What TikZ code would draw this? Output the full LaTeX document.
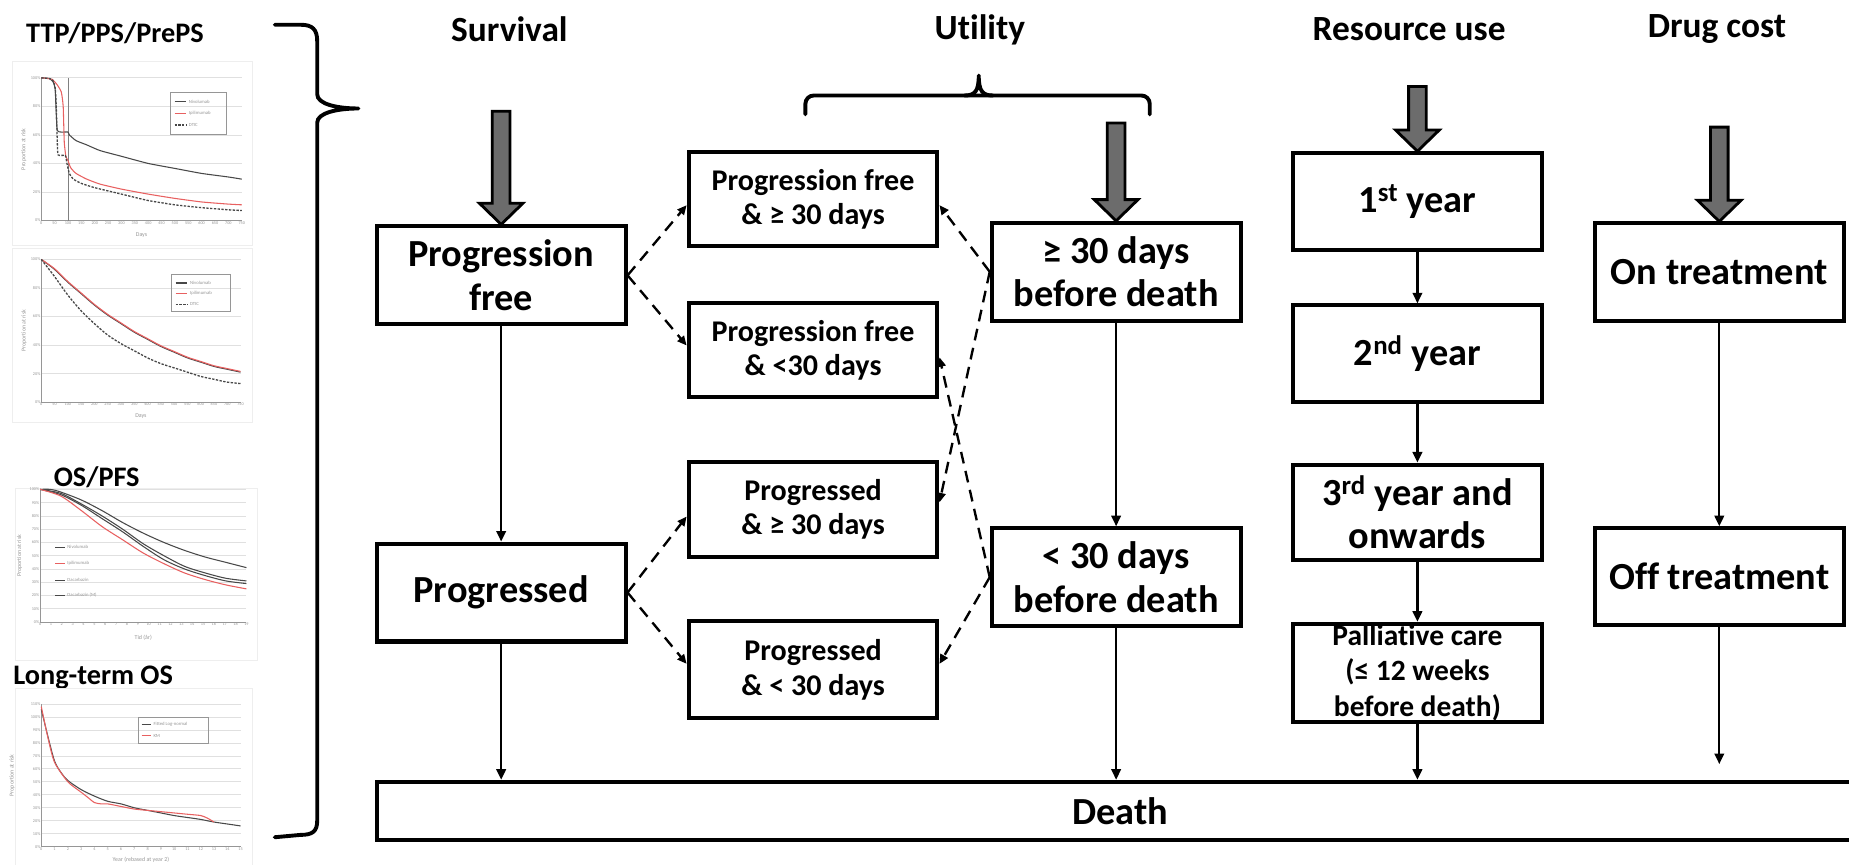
\documentclass[tikz,border=0pt]{standalone}
\usepackage{fontspec}
\setmainfont{Carlito}[Ligatures=NoCommon]
\usetikzlibrary{arrows.meta,calc}
\definecolor{arrowgray}{RGB}{108,108,108}
\definecolor{gridgray}{RGB}{224,224,224}
\definecolor{curvered}{RGB}{232,96,96}
\definecolor{curvedark}{RGB}{72,72,72}
\definecolor{labelgray}{RGB}{150,150,150}
\definecolor{framegray}{RGB}{238,238,238}

\tikzset{
  pics/blockarrow/.style={code={
    \draw[line width=2.4pt, fill=arrowgray, line join=miter]
      (0,0) -- (18.5,-18) -- (7.5,-18) -- (7.5,-#1) -- (-7.5,-#1)
      -- (-7.5,-18) -- (-18.5,-18) -- cycle;}},
}

\begin{document}
\begin{tikzpicture}[x=1pt,y=-1pt,
  box/.style={draw, line width=3.4pt, align=center, inner sep=0pt,
    font=\bfseries\fontsize{32.5}{37}\selectfont,
    minimum width=211pt, minimum height=83pt},
  midbox/.style={box, minimum height=80pt,
    font=\bfseries\fontsize{25.5}{29}\selectfont},
  head/.style={font=\bfseries\fontsize{30}{34}\selectfont, inner sep=0pt},
  charthead/.style={font=\bfseries\fontsize{24}{28}\selectfont, inner sep=0pt},
  flow/.style={line width=2pt, -{Triangle[length=9pt,width=8pt]}},
  option/.style={line width=2pt, dash pattern=on 10pt off 6.5pt,
    -{Triangle[length=8pt,width=7pt]}},
  brace/.style={line width=3.3pt, line cap=round, line join=round},
  grid/.style={gridgray, line width=0.6pt},
  axis/.style={labelgray, line width=0.6pt},
  panel/.style={framegray, line width=0.8pt},
  tick/.style={font=\fontsize{3.6}{4}\selectfont, text=labelgray, inner sep=0.6pt},
  axislbl/.style={font=\fontsize{5}{6}\selectfont, text=labelgray, inner sep=0pt},
  leg/.style={font=\fontsize{4}{5}\selectfont, text=labelgray, inner sep=0pt, anchor=west},
  km/.style={curvedark, line width=0.9pt},
  kmred/.style={curvered, line width=0.9pt},
  kmdash/.style={curvedark, line width=1.1pt, dash pattern=on 2pt off 1.2pt},
]
\fill[white] (0,0) rectangle (1568,733);
\useasboundingbox (0,0) rectangle (1568,733);

% ---------------- survival curve panels ----------------
\node[charthead] (hTTP) at (97.5,28) {TTP/PPS/PrePS};
\node[charthead] (hOS) at (82,404.5) {OS/PFS};
\node[charthead] (hLT) at (79,575) {Long-term OS};

% panel 1: TTP
\draw[panel] (11,52) rectangle (214,208);
\begin{scope}[shift={(35,187)}, x=0.2267pt, y=1.21pt]
  \foreach \p in {0,20,...,100} {
    \draw[grid] (0,\p) -- (750,\p);
    \node[tick, anchor=east] at (0,\p) {\p\%};
  }
  \foreach \d in {0,50,...,750} \node[tick, anchor=north] at (\d,0) {\d};
  \draw[axis] (0,100) -- (0,0) -- (750,0);
  \draw[gray, line width=0.7pt] (100,0) -- (100,100);
  \node[axislbl] at (375,-10) {Days};
  \node[axislbl, rotate=90] at (-65,50) {Proportion at risk};
  \draw[km] plot[smooth, tension=0.3] coordinates {(0,100) (30,99.5) (45,97) (52,92) (56,75) (60,63) (75,62) (100,62) (105,60) (130,56) (170,53) (220,49) (300,45) (400,40) (500,36.5) (600,33) (700,30.5) (750,29)};
  \draw[kmred] plot[smooth, tension=0.3] coordinates {(0,100) (40,99) (60,95) (75,90) (82,80) (86,55) (92,45) (100,42) (110,37) (130,33) (170,29) (220,25.5) (300,22) (400,18.5) (500,15.5) (600,13) (700,11.5) (750,11)};
  \draw[kmdash] plot[smooth, tension=0.3] coordinates {(0,100) (40,99) (52,93) (56,80) (60,55) (63,46) (90,45.5) (96,40) (105,33) (120,29) (150,26) (200,23) (300,18.5) (400,14) (500,11) (600,9) (700,7.5) (750,7)};
\end{scope}
\draw[labelgray, line width=0.5pt] (144,78) rectangle (192,114);
\draw[km] (148,86) -- (158,86); \node[leg] at (160,86) {Nivolumab};
\draw[kmred] (148,96) -- (158,96); \node[leg] at (160,96) {Ipilimumab};
\draw[kmdash] (148,106) -- (158,106); \node[leg] at (160,106) {DTIC};

% panel 2: PPS
\draw[panel] (11,211) rectangle (214,358);
\begin{scope}[shift={(35,341)}, x=0.2253pt, y=1.21pt]
  \foreach \p in {0,20,...,100} {
    \draw[grid] (0,\p) -- (750,\p);
    \node[tick, anchor=east] at (0,\p) {\p\%};
  }
  \foreach \d in {0,50,...,750} \node[tick, anchor=north] at (\d,0) {\d};
  \draw[axis] (0,100) -- (0,0) -- (750,0);
  \node[axislbl] at (375,-10) {Days};
  \node[axislbl, rotate=90] at (-65,50) {Proportion at risk};
  \draw[km] plot[smooth] coordinates {(0,100) (50,93) (100,84) (150,76) (200,68) (250,61) (300,55) (350,49) (400,44) (450,39) (500,35) (550,31) (600,28) (650,25) (700,23) (750,21)};
  \draw[kmred] plot[smooth] coordinates {(0,100) (50,93.5) (100,84.5) (150,76.5) (200,68.5) (250,61.5) (300,55.5) (350,49.5) (400,44.5) (450,39.5) (500,35.5) (550,31.5) (600,28.5) (650,25.5) (700,23.5) (750,21.5)};
  \draw[kmdash] plot[smooth] coordinates {(0,100) (50,88) (100,75) (150,64) (200,55) (250,47) (300,41) (350,36) (400,31) (450,27) (500,24) (550,21) (600,18) (650,16) (700,14) (750,13)};
\end{scope}
\draw[labelgray, line width=0.5pt] (145,233) rectangle (195,264);
\draw[km] (149,240) -- (159,240); \node[leg] at (161,240) {Nivolumab};
\draw[kmred] (149,249) -- (159,249); \node[leg] at (161,249) {Ipilimumab};
\draw[kmdash] (149,258) -- (159,258); \node[leg] at (161,258) {DTIC};

% panel 3: OS/PFS
\draw[panel] (13,414) rectangle (218,560);
\begin{scope}[shift={(34,527.5)}, x=175pt, y=1.125pt]
  \foreach \p in {0,10,...,100} {
    \draw[grid] (0,\p) -- (1,\p);
    \node[tick, anchor=east] at (0,\p) {\p\%};
  }
  \foreach \t in {0,...,19} \node[tick, anchor=north] at ({\t/19},0) {\t};
  \draw[axis] (0,100) -- (0,0) -- (1,0);
  \node[axislbl] at (0.5,-12) {Tid (år)};
  \node[axislbl, rotate=90] at (-0.1,50) {Proportion at risk};
  \draw[km] plot[smooth] coordinates {(0,100) (0.05,100) (0.1,98) (0.2,92) (0.3,84) (0.4,75) (0.5,67) (0.6,60) (0.7,54) (0.8,49) (0.9,45) (1.0,41)};
  \draw[km] plot[smooth] coordinates {(0,100) (0.1,97) (0.2,89) (0.3,80) (0.4,70) (0.5,59) (0.6,50) (0.7,42) (0.8,37) (0.9,33) (1.0,31)};
  \draw[km] plot[smooth] coordinates {(0,100) (0.1,96) (0.2,88) (0.3,78) (0.4,68) (0.5,57) (0.6,47) (0.7,40) (0.8,35) (0.9,31) (1.0,29)};
  \draw[kmred] plot[smooth] coordinates {(0,100) (0.1,95) (0.2,84) (0.3,72) (0.4,62) (0.5,52) (0.6,44) (0.7,37) (0.8,32) (0.9,28) (1.0,25)};
\end{scope}
\draw[km] (47,464) -- (55,464); \node[leg] at (57,464) {Nivolumab};
\draw[kmred] (47,478) -- (55,478); \node[leg] at (57,478) {Ipilimumab};
\draw[km] (47,492) -- (55,492); \node[leg] at (57,492) {Dacarbazin};
\draw[km] (47,505) -- (55,505); \node[leg] at (57,505) {Dacarbazin (M)};

% panel 4: long-term OS
\draw[panel] (13,584) rectangle (214,740);
\begin{scope}[shift={(35,718)}, x=11.27pt, y=1.1pt]
  \foreach \p in {0,10,...,110} {
    \draw[grid] (0,\p) -- (15,\p);
    \node[tick, anchor=east] at (0,\p) {\p\%};
  }
  \foreach \t in {0,...,15} \node[tick, anchor=north] at (\t,0) {\t};
  \draw[axis] (0,110) -- (0,0) -- (15,0);
  \node[axislbl] at (7.5,-10) {Year (rebased at year 2)};
  \node[axislbl, rotate=90] at (-2.2,55) {Proportion at risk};
  \draw[km] plot[smooth] coordinates {(0,106) (0.5,85) (1,66) (1.5,57) (2,51) (3,44) (4,39) (5,35) (6,33) (7,30) (8,28) (9,26) (10,24) (11,22.5) (12,21) (13,19) (14,17.5) (15,16)};
  \draw[kmred] plot[smooth, tension=0.4] coordinates {(0,108) (0.5,84) (1,65) (2,50) (3,42) (3.5,38) (4,34) (4.5,33) (5,33) (6,31) (7,29) (8,28) (9,27) (10,26) (11,25) (12,24) (12.5,22) (13,19)};
\end{scope}
\draw[labelgray, line width=0.5pt] (117,608) rectangle (177,630);
\draw[km] (120,614) -- (128,614); \node[leg] at (130,614) {Fitted Log-normal};
\draw[kmred] (120,624) -- (128,624); \node[leg] at (130,624) {KM};

% brace grouping the panels
\draw[brace] (233,21) -- (255,21) .. controls (265,21) and (269,25) .. (269,35)
  -- (269,80) .. controls (269,88) and (285,92) .. (304,92)
  .. controls (285,92) and (269,96) .. (269,104)
  -- (269,696) .. controls (269,705) and (265,708) .. (255,708) -- (233,710);

% ---------------- column headers ----------------
\node[head] (hSurv) at (432,25) {Survival};
\node[head] (hUtil) at (831,25) {Ut\kern0pt ility};
\node[head] (hRes) at (1195,25) {Resource use};
\node[head] (hDrug) at (1456,25) {Drug cost};

% brace over the utility states
\draw[brace, rounded corners=7pt] (683,97) |- (830,81) -| (975,97);
\draw[brace] (818,81) .. controls (827,81) and (830,77) .. (830,64)
  .. controls (830,77) and (833,81) .. (842,81);

% ---------------- states ----------------
\node[box] (pf) at (425,233.5) {Progression\\free};
\node[box] (pg) at (425,502.5) {Progressed};

\node[midbox] (pfa) at (689.5,169) {Progression free\\\& ≥ 30 days};
\node[midbox] (pfb) at (689.5,297) {Progression free\\\& <30 days};
\node[midbox] (pga) at (689.5,432) {Progressed\\\& ≥ 30 days};
\node[midbox, minimum height=82pt] (pgb) at (689.5,568) {Progressed\\\& < 30 days};

\node[box] (ua) at (946.5,230.5) {≥ 30 days\\before death};
\node[box] (ub) at (946.5,489.5) {< 30 days\\before death};

\node[box, minimum height=82pt] (r1) at (1202,171) {1\textsuperscript{st} year};
\node[box, minimum height=82pt] (r2) at (1202,300) {2\textsuperscript{nd} year};
\node[box, minimum height=81pt] (r3) at (1202,434.5) {3\textsuperscript{rd} year and\\onwards};
\node[box] (r4) at (1202,570.5) {};
\node[align=center, inner sep=0pt, font=\bfseries\fontsize{25}{30}\selectfont]
  (r4text) at (r4.center) {Palliat\kern0pt ive care\\(≤ 12 weeks\\before death)};

\node[box] (d1) at (1458,231) {On treatment};
\node[box, minimum height=82pt] (d2) at (1458,489) {Off treatment};

\node[box, minimum width=1260pt, minimum height=49pt] (death) at (950,687.5) {Death};

% ---------------- entry arrows ----------------
\pic at (pf.north) {blockarrow=96};
\pic at (ua.north) {blockarrow=83};
\pic at (r1.north) {blockarrow=55};
\pic at (d1.north) {blockarrow=80};

% ---------------- transitions ----------------
\draw[flow] (pf) -- (pg);
\draw[flow] (pg.south) -- (pg.south |- death.north);
\draw[flow] (ua) -- (ub);
\draw[flow] (ub.south) -- (ub.south |- death.north);
\draw[flow] (r1) -- (r2);
\draw[flow] (r2) -- (r3);
\draw[flow] (r3) -- (r4);
\draw[flow] (r4.south) -- (r4.south |- death.north);
\draw[flow] (d1) -- (d2);
\coordinate (dEnd) at (1458,648);
\draw[flow] (d2) -- (dEnd);

% combined utility states
\draw[option] (pf.east) -- ([yshift=-5pt]pfa.west);
\draw[option] (pf.east) -- ([yshift=4pt]pfb.west);
\draw[option] (pg.east) -- ([yshift=-6pt]pga.west);
\draw[option] (pg.east) -- ([yshift=5pt]pgb.west);
\draw[option] (ua.west) -- ([yshift=-5pt]pfa.east);
\draw[option] (ua.west) -- ([yshift=6pt]pga.east);
\draw[option] (ub.west) -- ([yshift=-6pt]pfb.east);
\draw[option] (ub.west) -- ([yshift=5pt]pgb.east);
\end{tikzpicture}
\end{document}
